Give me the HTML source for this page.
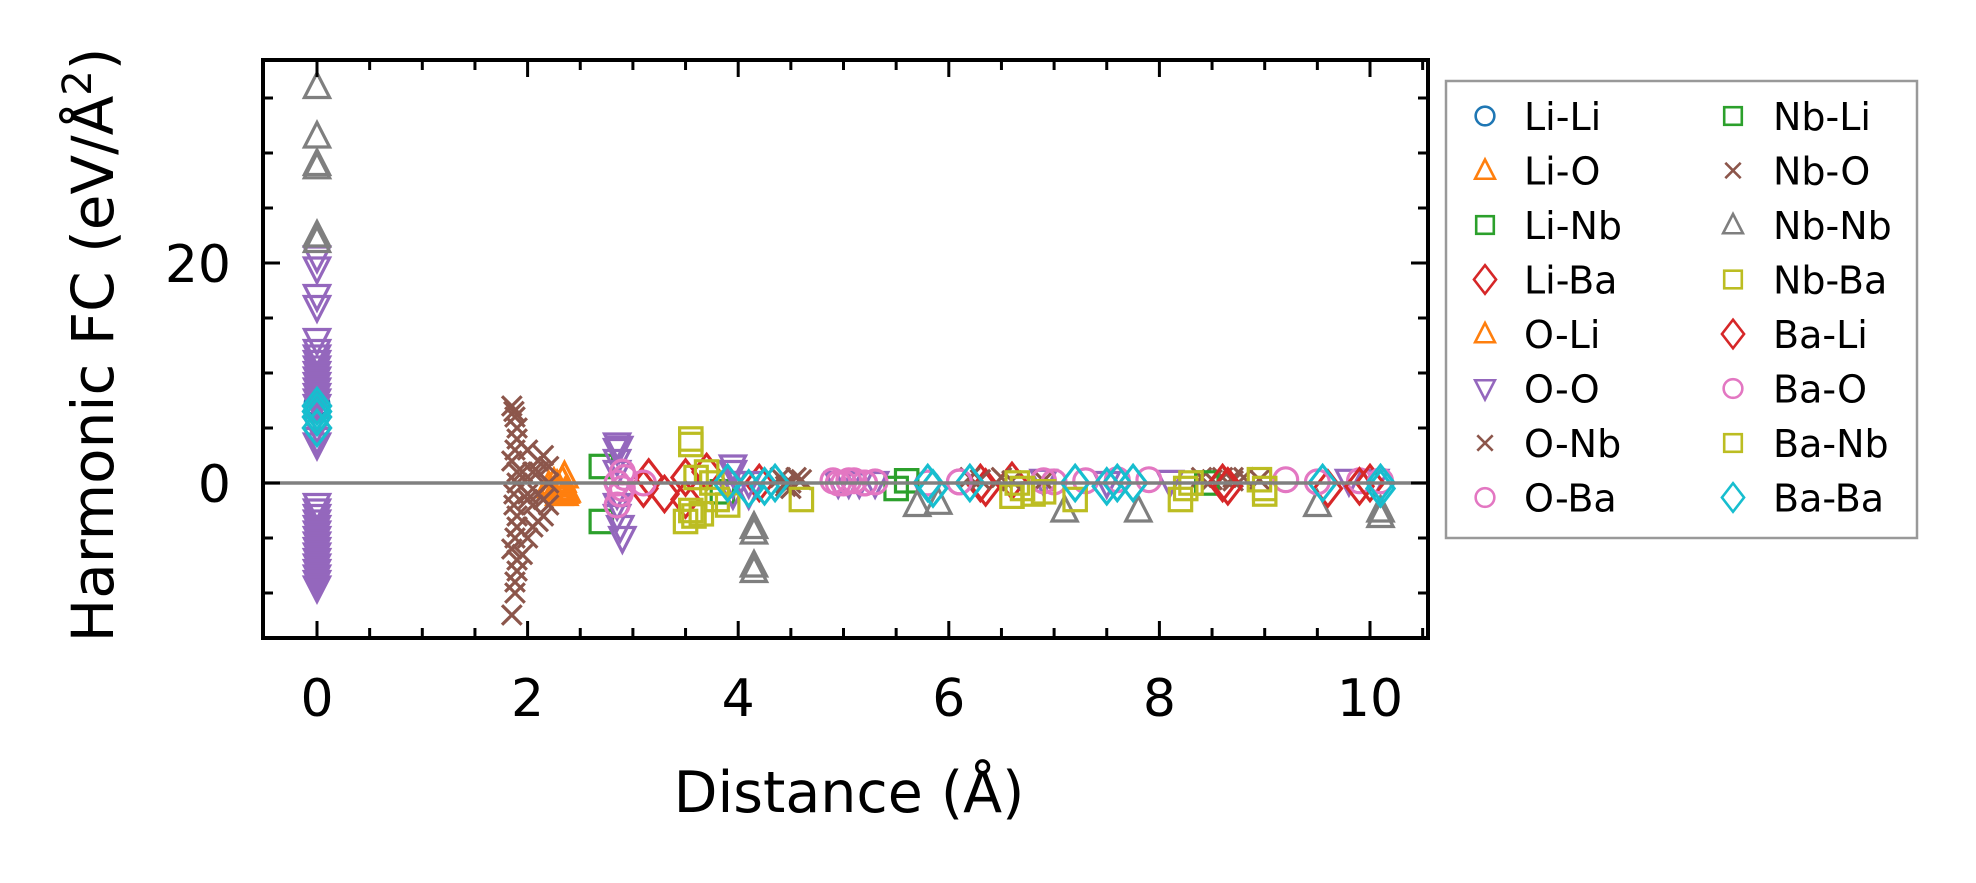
<!DOCTYPE html>
<html><head><meta charset="utf-8"><title>Harmonic FC vs Distance</title>
<style>
html,body{margin:0;padding:0;background:#fff;}
svg{display:block;font-family:"DejaVu Sans","Liberation Sans",sans-serif;}
</style></head>
<body>
<svg id="chart" width="1976" height="883" viewBox="0 0 1976 883" xmlns="http://www.w3.org/2000/svg">
<rect width="1976" height="883" fill="#fff"/>
<g id="marks"></g>
<g id="axes"></g>
<text x="849" y="812" font-size="57" text-anchor="middle">Distance (Å)</text>
<text transform="translate(113,345) rotate(-90)" font-size="58" text-anchor="middle">Harmonic FC (eV/Å<tspan font-size="40" dy="-22">2</tspan><tspan dy="22">)</tspan></text>
<g id="legend"></g>
</svg>
<script>
const xTicks = [0, 2, 4, 6, 8, 10];
const yTicks = [0, 20];
const seriesNames = ["Li-Li","Li-O","Li-Nb","Li-Ba","O-Li","O-O","O-Nb","O-Ba","Nb-Li","Nb-O","Nb-Nb","Nb-Ba","Ba-Li","Ba-O","Ba-Nb","Ba-Ba"];
const seriesColors = ["#1f77b4","#ff7f0e","#2ca02c","#d62728","#ff7f0e","#9467bd","#8c564b","#e377c2","#2ca02c","#8c564b","#7f7f7f","#bcbd22","#d62728","#e377c2","#bcbd22","#17becf"];
const seriesMarkers = ["o","^","s","D","^","v","x","o","s","x","^","s","D","o","s","D"];
const liLi = [[0,7.2]];
const liO = [[2.25,0],[2.3,-0.5],[2.35,0.6],[2.3,-1],[2.2,-0.3],[2.35,-1],[2.33,0.2],[2.37,-0.7]];
const liNb = [[2.7,1.5],[2.7,-3.5],[5.5,-0.5],[3.85,-0.8]];
const liBa = [[3.1,-0.5],[3.15,0.5],[3.3,-1],[3.5,0.5],[3.5,-1.5],[3.7,1],[4.2,0],[6.3,0],[6.35,-0.4],[6.6,0.2]];
const oLi = [[2.28,-0.2],[2.33,0.2],[2.36,-0.8]];
const oO = [[0,20.5],[0,19.5],[0,17],[0,16],[0,13],[0,12],[0,11.5],[0,11],[0,10.5],[0,10],[0,9.5],[0,9],[0,8.5],[0,8],[0,7.5],[0,7],[0,6],[0,5],[0,4],[0,3.5],[0,-2],[0,-2.5],[0,-3],[0,-3.5],[0,-4],[0,-4.5],[0,-5],[0,-5.5],[0,-6],[0,-6.5],[0,-7],[0,-7.5],[0,-8],[0,-8.5],[0,-9],[0,-9.5],[2.85,3.5],[2.87,3.2],[2.85,3],[2.85,2],[2.85,1],[2.85,-1],[2.85,-2],[2.85,-3],[2.88,-4],[2.9,-5],[3.95,1.5],[3.95,1],[3.95,0],[3.95,-1],[4.1,0],[4.1,-1],[4.95,0],[5.05,0],[5.15,0],[5.3,0],[6.9,0.2],[7.5,0],[8.1,0.1],[9.8,0.2],[10.05,0.2]];
const oNb = [[1.85,7],[1.87,6.5],[1.88,6],[1.9,5],[1.9,4],[1.88,3],[1.85,2],[1.9,1],[1.9,0],[1.87,-1],[1.87,-2],[1.9,-3],[1.9,-4],[1.88,-5],[1.85,-6],[1.9,-7],[1.9,-8],[1.88,-9],[1.88,-10],[1.85,-12],[2.0,3],[2.05,1],[2.1,-1],[2.15,-3],[2.0,-5],[2.1,2],[2.2,0],[2.05,-2],[1.95,-6.5],[2.15,2.5],[2.2,-2],[2.0,-1],[2.1,1],[2.2,1.5],[2.05,-4],[2.15,-1.5],[4.4,0.5],[4.45,0],[4.5,0],[4.55,0.5],[4.6,0.3],[4.5,-0.5],[6.2,0.5],[6.3,0.3],[6.5,0.5],[6.9,0.2],[8.4,0.5],[8.5,0.3],[8.6,0.5],[8.7,0.5],[8.8,0.5],[8.95,0.3]];
const oBa = [[2.85,0],[2.88,-1],[2.9,1],[2.85,-2],[2.9,-0.5],[2.92,0.5],[3.1,0],[4.9,0.2],[4.95,0],[5.0,0],[5.05,0.2],[5.1,0.2],[5.2,0],[5.3,0.1],[5.8,0],[6.1,0.1],[6.9,0.2],[7.3,0.2],[7.6,0.3],[7.9,0.3],[9.2,0.3],[9.9,0.2]];
const nbLi = [[8.45,0],[5.6,0.2]];
const nbO = [[1.95,1],[2.0,-1.5],[2.1,-3.5],[4.45,-0.3],[6.6,0.2],[8.7,0.2]];
const nbNb = [[0,36],[0,31.5],[0,29],[0,28.7],[0,22.5],[0,22],[4.15,-4],[4.15,-4.5],[4.15,-7.5],[4.15,-8],[5.7,-2],[5.9,-1.8],[7.1,-2.5],[7.8,-2.5],[9.5,-2],[10.1,-2.5],[10.1,-3]];
const nbBa = [[3.55,4],[3.55,3.5],[3.55,-2.5],[3.5,-3.5],[3.65,-2.8],[3.58,-3],[3.7,1],[3.75,0],[3.8,-1.5],[3.9,-2],[4.6,-1.5]];
const baLi = [[8.6,0],[8.65,-0.3],[9.6,-0.5],[9.9,-0.3],[10.0,0]];
const baO = [[5.2,0],[6.1,0.1],[7.0,0.1],[9.5,0.1],[10.1,0.2]];
const baNb = [[6.6,-1.2],[6.65,0],[6.7,-0.5],[6.8,-1],[6.9,-0.8],[7.2,-1.5],[8.2,-1.5],[8.25,-0.5],[8.3,0],[9.0,-1],[9.0,-0.5],[8.95,0.3],[3.6,0.5]];
const baBa = [[0,7],[0,6.5],[0,6],[0,5],[3.9,0],[4.1,-0.5],[4.25,-0.3],[4.35,0],[5.8,0],[5.85,-0.5],[6.2,0],[7.2,0],[7.5,-0.3],[7.6,0],[7.75,0],[9.55,0],[10.1,-0.5],[10.1,0]];
const seriesData = [liLi,liO,liNb,liBa,oLi,oO,oNb,oBa,nbLi,nbO,nbNb,nbBa,baLi,baO,baNb,baBa];

const NS = "http://www.w3.org/2000/svg";
const L = 263, R = 1428, T = 60, B = 638;
const X0 = 317, XU = 105.3, Y0 = 483, YU = 11;
function sx(v){ return X0 + v*XU; }
function sy(v){ return Y0 - v*YU; }
function mk(tag, attrs, parent){
  const e = document.createElementNS(NS, tag);
  for (const k in attrs) e.setAttribute(k, attrs[k]);
  parent.appendChild(e);
  return e;
}
function marker(type, cx, cy, s, color, parent, sw){
  const h = s/2;
  const st = {fill:"none", stroke:color, "stroke-width":sw};
  let e;
  if (type === "o") e = mk("circle", Object.assign({cx:cx, cy:cy, r:h*0.85}, st), parent);
  else if (type === "^") e = mk("polygon", Object.assign({points:`${cx},${cy-h} ${cx-h*0.9},${cy+h*0.75} ${cx+h*0.9},${cy+h*0.75}`}, st), parent);
  else if (type === "v") e = mk("polygon", Object.assign({points:`${cx},${cy+h} ${cx-h*0.9},${cy-h*0.75} ${cx+h*0.9},${cy-h*0.75}`}, st), parent);
  else if (type === "s") e = mk("rect", Object.assign({x:cx-h*0.8, y:cy-h*0.8, width:h*1.6, height:h*1.6}, st), parent);
  else if (type === "D") e = mk("polygon", Object.assign({points:`${cx},${cy-h*1.1} ${cx+h*0.85},${cy} ${cx},${cy+h*1.1} ${cx-h*0.85},${cy}`}, st), parent);
  else e = mk("path", Object.assign({d:`M${cx-h*0.7},${cy-h*0.7}L${cx+h*0.7},${cy+h*0.7}M${cx-h*0.7},${cy+h*0.7}L${cx+h*0.7},${cy-h*0.7}`}, st), parent);
  return e;
}
const marks = document.getElementById("marks");
const axes = document.getElementById("axes");
const legend = document.getElementById("legend");

seriesData.forEach((data, i) => {
  const g = mk("g", {}, marks);
  
  
  const s = seriesMarkers[i] === "D" ? 32 : 28;
  data.forEach(p => {
    const m = marker(seriesMarkers[i], sx(p[0]), sy(p[1]), s, seriesColors[i], g, 3.2);
    
    
  });
});

// zero line
const zl = mk("line", {x1:L, x2:R, y1:sy(0), y2:sy(0), stroke:"#808080", "stroke-width":3.5}, marks);



// frame
const fr = mk("rect", {x:L, y:T, width:R-L, height:B-T, fill:"none", stroke:"#000", "stroke-width":4}, axes);


for (let v = 0; v <= 10.5; v += 0.5) {
  const major = Math.abs(v - Math.round(v/2)*2) < 1e-6;
  const len = major ? 17 : 10;
  const x = sx(v);
  const t1 = mk("line", {x1:x, x2:x, y1:B, y2:B-len, stroke:"#000", "stroke-width":3}, axes);
  
  
  const t2 = mk("line", {x1:x, x2:x, y1:T, y2:T+len, stroke:"#000", "stroke-width":3}, axes);
  
  
}
xTicks.forEach(v => {
  const t = mk("text", {x:sx(v), y:716, "font-size":52, "text-anchor":"middle"}, axes);
  t.textContent = String(v);
  
  
});
for (let v = -10; v <= 35; v += 5) {
  const major = v % 20 === 0;
  const len = major ? 17 : 10;
  const y = sy(v);
  const t1 = mk("line", {x1:L, x2:L+len, y1:y, y2:y, stroke:"#000", "stroke-width":3}, axes);
  
  
  const t2 = mk("line", {x1:R, x2:R-len, y1:y, y2:y, stroke:"#000", "stroke-width":3}, axes);
  
  
}
yTicks.forEach(v => {
  const t = mk("text", {x:231, y:sy(v)+19, "font-size":52, "text-anchor":"end"}, axes);
  t.textContent = String(v);
  
  
});
const lb = mk("rect", {x:1446, y:81, width:471, height:457, fill:"#fff", stroke:"#999", "stroke-width":2.5}, legend);


seriesNames.forEach((n, i) => {
  const col = Math.floor(i/8), row = i % 8;
  const cy = 116 + row*54.5;
  const mx = col ? 1733 : 1485;
  const tx = col ? 1773 : 1524;
  const g = mk("g", {}, legend);
  
  
  marker(seriesMarkers[i], mx, cy, seriesMarkers[i] === "D" ? 26 : 22, seriesColors[i], g, 2.6);
  const t = mk("text", {x:tx, y:cy+14, "font-size":38}, g);
  t.textContent = n;
});
</script>
</body></html>
